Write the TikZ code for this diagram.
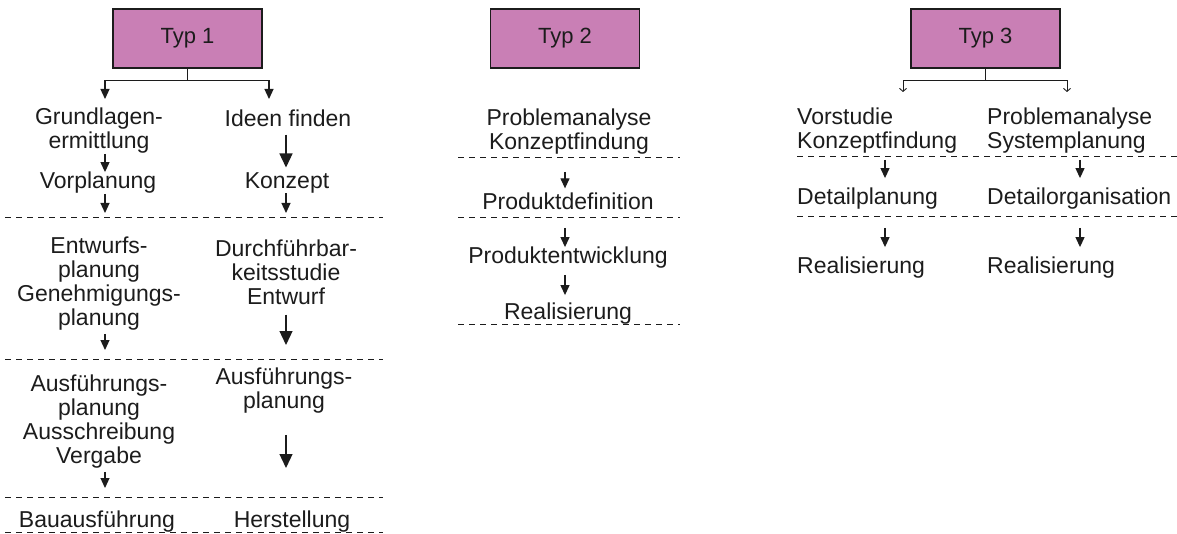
\documentclass[tikz,border=0pt]{standalone}
\usepackage{fontspec}
\setmainfont{Liberation Sans}
\usetikzlibrary{arrows.meta}
\definecolor{typfill}{RGB}{201,127,181}
\definecolor{ink}{RGB}{28,28,28}
\begin{document}
\begin{tikzpicture}[x=1pt,y=-1pt,
  typbox/.style={draw=ink, line width=1.2pt, fill=typfill, minimum width=149pt,
    minimum height=59pt, inner sep=0pt, text=ink, font=\fontsize{22}{24}\selectfont},
  lbl/.style={inner sep=0pt, align=center, text=ink, font=\fontsize{23}{24}\selectfont},
  lbll/.style={lbl, align=left, anchor=west},
  sep/.style={draw=ink, line width=1pt, dash pattern=on 6pt off 5pt},
  sarr/.style={draw=ink, line width=1.2pt, -{Triangle[width=9pt,length=10pt]}},
  barr/.style={draw=ink, line width=1.3pt, -{Triangle[width=13pt,length=14pt]}},
  tarr/.style={draw=ink, line width=0.9pt, -{Straight Barb[width=7pt,length=3pt]}}]
\useasboundingbox (0,0) rectangle (1177,534);

% ---------- headers ----------
\node[typbox] (t1) at (187.5,38.5) {Typ 1};
\node[typbox] (t2) at (565,38.5) {Typ 2};
\node[typbox] (t3) at (985.5,38.5) {Typ 3};

% ---------- Typ 1 ----------
\coordinate (xl) at (105,0);
\coordinate (xr) at (286,0);
\node[lbl] (g1)  at (99,131)  {Grundlagen-\\ermittlung};
\node[lbl] (i1)  at (288,118) {Ideen finden};
\node[lbl] (vp)  at (98,183)  {Vorplanung};
\node[lbl] (kz)  at (287,183) {Konzept};
\node[lbl] (ew)  at (99,284)  {Entwurfs-\\planung\\Genehmigungs-\\planung};
\node[lbl] (df)  at (286,272) {Durchführbar-\\keitsstudie\\Entwurf};
\node[lbl] (af1) at (99,422)  {Ausführungs-\\planung\\Ausschreibung\\Vergabe};
\node[lbl] (af2) at (284,391) {Ausführungs-\\planung};
\node[lbl] (ba)  at (97,522)  {Bauausführung};
\node[lbl] (hs)  at (292,522) {Herstellung};

\coordinate (s1a) at (5,218); \coordinate (s1b) at (383,218);
\coordinate (s2a) at (5,359); \coordinate (s2b) at (383,359);
\coordinate (s3a) at (5,497); \coordinate (s3b) at (383,497);
\coordinate (s4a) at (5,532); \coordinate (s4b) at (383,532);
\foreach \a/\b in {s1a/s1b, s2a/s2b, s3a/s3b, s4a/s4b}
  \draw[sep] (\a) -- (\b);

\coordinate (f1l) at (105,99);
\coordinate (f1r) at (269,99);
\draw[sarr] (t1.south) -- ++(0,12) -| (f1l);
\draw[sarr] (t1.south) -- ++(0,12) -| (f1r);

\draw[sarr] (g1.south -| xl) -- (vp.north -| xl);
\draw[sarr, shorten >=5pt] (vp.south -| xl) -- (xl |- s1a);
\draw[sarr, shorten <=3pt, shorten >=9pt] (ew.south -| xl) -- (xl |- s2a);
\draw[sarr, shorten <=3pt, shorten >=9pt] (af1.south -| xl) -- (xl |- s3a);

\draw[barr, shorten <=8pt, shorten >=5pt] (i1.south -| xr) -- (kz.north -| xr);
\draw[sarr, shorten >=5pt] (kz.south -| xr) -- (xr |- s1a);
\draw[barr, shorten <=10pt, shorten >=14pt] (df.south -| xr) -- (xr |- s2a);
\draw[barr, shorten <=21pt, shorten >=29pt] (af2.south -| xr) -- (xr |- s3a);

% ---------- Typ 2 ----------
\coordinate (xm) at (565,0);
\node[lbl] (pk) at (569,132) {Problemanalyse\\Konzeptfindung};
\node[lbl] (pd) at (568,201) {Produktdefinition};
\node[lbl] (pe) at (568,258) {Produktentwicklung};
\node[lbl] (re) at (568,314) {Realisierung};

\coordinate (m1a) at (458,158); \coordinate (m1b) at (680,158);
\coordinate (m2a) at (458,218); \coordinate (m2b) at (680,218);
\coordinate (m3a) at (458,325); \coordinate (m3b) at (680,325);
\foreach \a/\b in {m1a/m1b, m2a/m2b, m3a/m3b}
  \draw[sep] (\a) -- (\b);

\draw[sarr, shorten <=14pt, shorten >=4pt] (xm |- m1a) -- (pd.north -| xm);
\draw[sarr, shorten <=10pt] (xm |- m2a) -- (pe.north -| xm);
\draw[sarr, shorten <=6pt, shorten >=8pt] (pe.south -| xm) -- (re.north -| xm);

% ---------- Typ 3 ----------
\coordinate (xa) at (885,0);
\coordinate (xb) at (1080,0);
\node[lbll] (vk) at (797,131) {Vorstudie\\Konzeptfindung};
\node[lbll] (ps) at (987,131) {Problemanalyse\\Systemplanung};
\node[lbll] (dp) at (797,199) {Detailplanung};
\node[lbll] (do) at (987,199) {Detailorganisation};
\node[lbll] (r1) at (797,268) {Realisierung};
\node[lbll] (r2) at (987,268) {Realisierung};

\coordinate (n1a) at (797,157); \coordinate (n1b) at (1177,157);
\coordinate (n2a) at (797,217); \coordinate (n2b) at (1177,217);
\foreach \a/\b in {n1a/n1b, n2a/n2b}
  \draw[sep] (\a) -- (\b);

\coordinate (f3l) at (903,92);
\coordinate (f3r) at (1067,92);
\draw[tarr] (t3.south) -- ++(0,12) -| (f3l);
\draw[tarr] (t3.south) -- ++(0,12) -| (f3r);

\foreach \x in {xa, xb} {
  \draw[sarr, shorten <=3pt, shorten >=10pt] (\x |- n1a) -- (dp.north -| \x);
  \draw[sarr, shorten <=11pt, shorten >=10pt] (\x |- n2a) -- (r1.north -| \x);
}
\end{tikzpicture}
\end{document}
